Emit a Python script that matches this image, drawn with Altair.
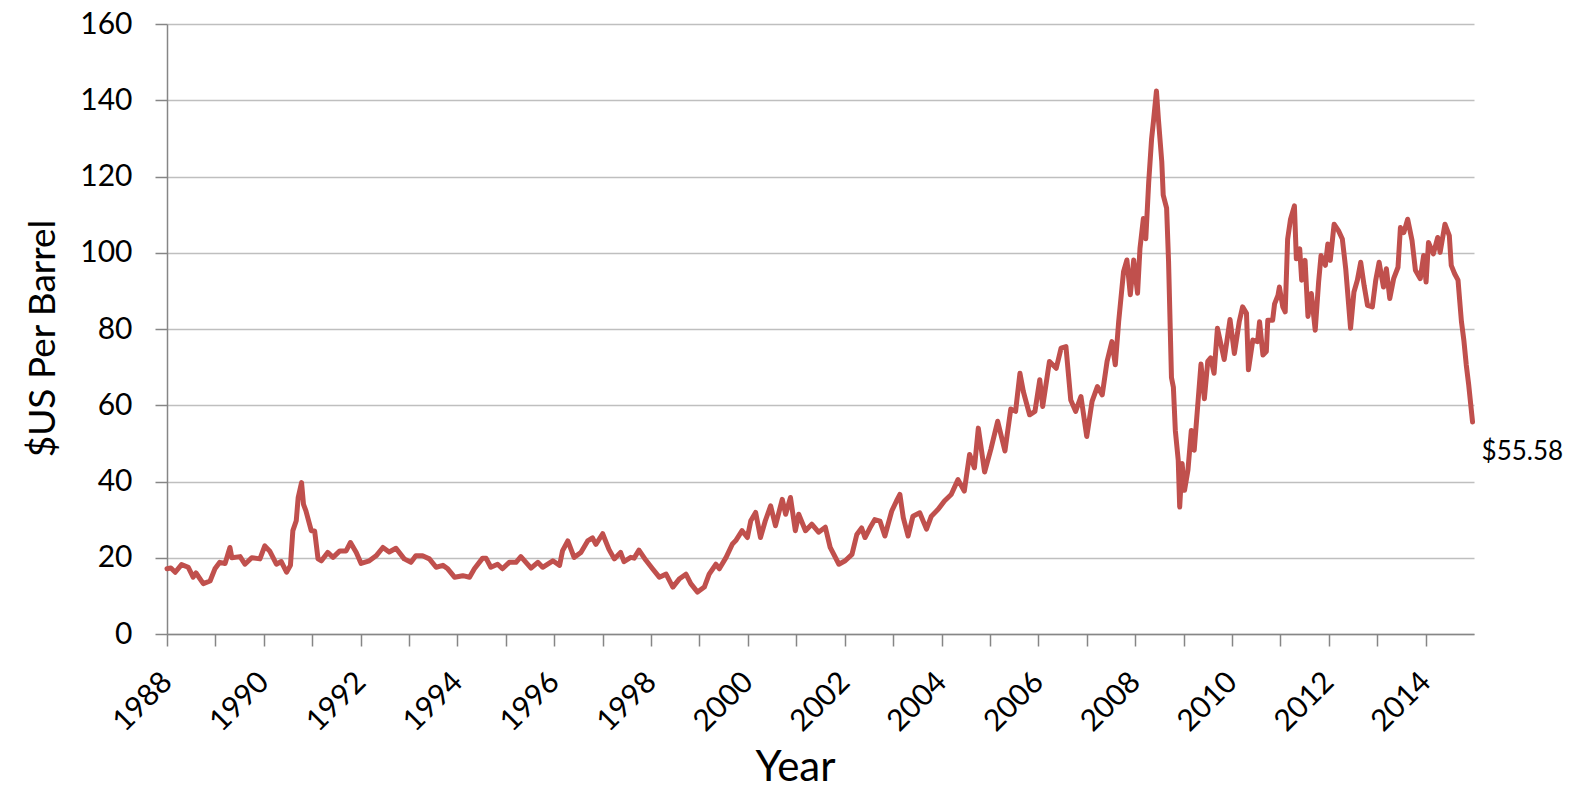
import altair as alt
import pandas as pd

years = [
    1988.00, 1988.08, 1988.17, 1988.30, 1988.44, 1988.54, 1988.60, 1988.75, 1988.89, 1988.99,
    1989.09, 1989.20, 1989.30, 1989.34, 1989.51, 1989.61, 1989.75, 1989.92,
    1990.02, 1990.12, 1990.26, 1990.36, 1990.47, 1990.55, 1990.60, 1990.67, 1990.71, 1990.78,
    1990.82, 1990.87, 1990.98,
    1991.05, 1991.12, 1991.19, 1991.32, 1991.43, 1991.57, 1991.70, 1991.79, 1991.91,
    1992.01, 1992.18, 1992.32, 1992.46, 1992.59, 1992.73, 1992.90,
    1993.04, 1993.14, 1993.28, 1993.42, 1993.56, 1993.70, 1993.80, 1993.94,
    1994.11, 1994.25, 1994.35, 1994.52, 1994.59, 1994.69, 1994.83, 1994.93,
    1995.07, 1995.21, 1995.31, 1995.52, 1995.66, 1995.76, 1995.97,
    1996.11, 1996.17, 1996.28, 1996.41, 1996.55, 1996.69, 1996.79, 1996.86,
    1997.00, 1997.13, 1997.24, 1997.37, 1997.44, 1997.58, 1997.65, 1997.75, 1997.89,
    1998.03, 1998.17, 1998.31, 1998.45, 1998.58, 1998.72, 1998.82, 1998.96,
    1999.10, 1999.20, 1999.34, 1999.41, 1999.55, 1999.68, 1999.75, 1999.88, 1999.99,
    2000.06, 2000.16, 2000.26, 2000.36, 2000.47, 2000.57, 2000.71, 2000.78, 2000.88, 2000.98,
    2001.05, 2001.19, 2001.32, 2001.46, 2001.60, 2001.70, 2001.88,
    2002.01, 2002.15, 2002.25, 2002.35, 2002.42, 2002.52, 2002.62, 2002.73, 2002.83, 2002.97,
    2003.07, 2003.14, 2003.21, 2003.31, 2003.41, 2003.55, 2003.69, 2003.79, 2003.93,
    2004.06, 2004.20, 2004.34, 2004.47, 2004.58, 2004.68, 2004.76, 2004.89,
    2005.02, 2005.16, 2005.31, 2005.43, 2005.53, 2005.62, 2005.69, 2005.82, 2005.93,
    2006.03, 2006.09, 2006.23, 2006.37, 2006.47, 2006.57, 2006.67, 2006.77, 2006.88,
    2007.00, 2007.11, 2007.22, 2007.32, 2007.42, 2007.52, 2007.59, 2007.66, 2007.76, 2007.83,
    2007.90, 2007.97,
    2008.05, 2008.10, 2008.17, 2008.22, 2008.28, 2008.34, 2008.38, 2008.44, 2008.48, 2008.55,
    2008.58, 2008.65, 2008.69, 2008.75, 2008.79, 2008.83, 2008.89, 2008.92, 2008.97,
    2009.02, 2009.09, 2009.16, 2009.22, 2009.29, 2009.36, 2009.43, 2009.50, 2009.56, 2009.63,
    2009.70, 2009.84, 2009.96,
    2010.05, 2010.15, 2010.22, 2010.30, 2010.34, 2010.43, 2010.53, 2010.57, 2010.64, 2010.71,
    2010.74, 2010.84, 2010.88, 2010.95, 2010.98,
    2011.05, 2011.10, 2011.15, 2011.21, 2011.29, 2011.33, 2011.40, 2011.44, 2011.51, 2011.57,
    2011.64, 2011.72, 2011.79, 2011.84, 2011.93, 2011.98,
    2012.03, 2012.11, 2012.20, 2012.28, 2012.35, 2012.45, 2012.52, 2012.59, 2012.66, 2012.73,
    2012.80, 2012.90, 2012.97,
    2013.04, 2013.13, 2013.19, 2013.26, 2013.34, 2013.43, 2013.48, 2013.55, 2013.63, 2013.72,
    2013.79, 2013.89, 2013.96,
    2014.01, 2014.06, 2014.16, 2014.25, 2014.30, 2014.40, 2014.49, 2014.53, 2014.60, 2014.67,
    2014.74, 2014.79, 2014.84, 2014.89, 2014.97,
]

prices = [
    17.1, 17.3, 16.2, 18.2, 17.5, 14.9, 16.0, 13.2, 13.9, 17.1,
    18.8, 18.5, 22.7, 20.0, 20.3, 18.3, 20.0, 19.7,
    23.1, 21.8, 18.3, 19.0, 16.2, 18.0, 27.1, 29.7, 35.8, 39.7,
    34.0, 32.3, 27.1,
    27.0, 19.7, 19.2, 21.4, 20.1, 21.8, 21.8, 24.0, 21.4,
    18.5, 19.2, 20.5, 22.7, 21.5, 22.5, 19.7,
    18.8, 20.5, 20.5, 19.7, 17.5, 18.0, 17.1, 14.9,
    15.3, 14.9, 17.1, 19.9, 19.9, 17.5, 18.3, 17.1,
    18.8, 18.8, 20.3, 17.3, 18.8, 17.5, 19.2,
    18.0, 21.8, 24.4, 20.1, 21.4, 24.4, 25.2, 23.5,
    26.3, 22.2, 19.7, 21.4, 19.0, 20.1, 19.9, 22.0, 19.4,
    17.1, 14.9, 15.7, 12.3, 14.4, 15.7, 13.2, 11.0,
    12.3, 15.7, 18.3, 17.1, 20.1, 23.6, 24.5, 27.1, 25.3,
    29.7, 31.9, 25.3, 29.7, 33.6, 28.4, 35.3, 31.4, 35.8, 27.1,
    31.4, 27.1, 28.8, 26.7, 28.0, 22.7, 18.3,
    19.2, 20.9, 26.1, 27.8, 25.3, 27.8, 30.0, 29.6, 25.7, 32.2,
    34.9, 36.6, 30.5, 25.7, 30.9, 31.8, 27.5, 30.9, 32.7,
    34.9, 36.6, 40.5, 37.5, 47.1, 43.6, 54.0, 42.5,
    48.5, 55.8, 48.0, 59.0, 58.4, 68.4, 63.6, 57.5, 58.4,
    66.7, 59.7, 71.5, 69.7, 75.0, 75.4, 61.4, 58.4, 62.3,
    51.8, 61.0, 64.9, 62.7, 71.5, 76.7, 70.6, 82.0, 95.0, 98.1,
    89.0, 98.1,
    89.4, 101.2, 109.0, 103.7, 118.5, 129.9, 134.7, 142.4, 135.1, 123.9,
    115.1, 111.7, 97.8, 67.3, 64.7, 53.4, 45.6, 33.3, 44.7,
    37.7, 42.9, 53.4, 48.2, 59.5, 70.8, 61.7, 71.5, 72.4, 68.4,
    80.2, 72.0, 82.5,
    73.6, 81.9, 85.8, 84.1, 69.3, 77.1, 76.7, 81.9, 73.2, 74.1,
    82.3, 82.3, 86.6, 88.8, 91.0,
    85.8, 84.5, 103.6, 108.8, 112.3, 98.4, 101.0, 92.8, 98.0, 83.3,
    89.3, 79.7, 92.3, 99.3, 96.7, 102.3,
    98.0, 107.5, 105.8, 103.6, 95.8, 80.2, 89.7, 92.8, 97.5, 91.4,
    86.2, 85.8, 92.8,
    97.5, 91.0, 95.8, 88.0, 93.2, 96.2, 106.6, 105.3, 108.8, 103.2,
    95.4, 93.2, 99.3,
    92.3, 102.7, 99.7, 104.0, 100.1, 107.5, 104.5, 96.7, 94.5, 92.8,
    82.0, 77.1, 70.6, 65.4, 55.58,
]

last_label = ["$55.58"]
year_ticks = list(range(1988, 2015))
y_ticks = list(range(0, 161, 20))

df = pd.DataFrame({"year": years, "price": prices})
df_last = pd.DataFrame({"year": [years[-1]], "price": [prices[-1]], "label": last_label})

FONT = "Lato"
LINE_COLOR = "#C0504D"

x_enc = alt.X(
    "year:Q",
    scale=alt.Scale(domain=[1988, 2015], nice=False, zero=False),
    axis=alt.Axis(
        values=year_ticks,
        labelExpr="datum.value % 2 == 0 ? format(datum.value, 'd') : ''",
        labelAngle=-45,
        labelAlign="right",
        labelBaseline="middle",
        labelPadding=31,
        labelFontSize=30,
        labelFont=FONT,
        labelColor="#000000",
        labelOverlap=False,
        labelFlush=False,
        tickSize=12,
        tickColor="#868686",
        tickWidth=1.5,
        domainColor="#868686",
        domainWidth=1.5,
        grid=False,
        title="Year",
        titleFont=FONT,
        titleFontSize=42,
        titleFontWeight="normal",
        titleColor="#000000",
        titleX=628,
        titleY=133,
        titleAlign="center",
        titleBaseline="middle",
    ),
)

y_enc = alt.Y(
    "price:Q",
    scale=alt.Scale(domain=[0, 160], nice=False),
    axis=alt.Axis(
        values=y_ticks,
        labelFontSize=30,
        labelFont=FONT,
        labelColor="#000000",
        labelPadding=23,
        tickSize=12,
        tickColor="#868686",
        tickWidth=1.5,
        domainColor="#868686",
        domainWidth=1.5,
        grid=True,
        gridColor="#BFBFBF",
        gridWidth=1.5,
        title="$US Per Barrel",
        titleFont=FONT,
        titleFontSize=37,
        titleFontWeight="normal",
        titleColor="#000000",
        titleX=-124,
        titleY=314,
        titleAngle=-90,
        titleAlign="center",
        titleBaseline="middle",
    ),
)

line = alt.Chart(df).mark_line(
    color=LINE_COLOR, strokeWidth=5, strokeJoin="round", strokeCap="round"
).encode(x=x_enc, y=y_enc)

label = alt.Chart(df_last).mark_text(
    align="left", baseline="middle", dx=9, dy=30, fontSize=26, font=FONT, color="#000000"
).encode(x="year:Q", y="price:Q", text="label:N")

chart = (
    alt.layer(line, label)
    .properties(
        width=1307,
        height=610,
        background="#FFFFFF",
        autosize=alt.AutoSizeParams(type="none"),
        padding={"left": 159, "top": 16, "right": 100, "bottom": 155},
    )
    .configure_view(stroke="transparent", strokeWidth=0)
)

chart.save("out.html", embed_options={"renderer": "svg", "actions": False})
